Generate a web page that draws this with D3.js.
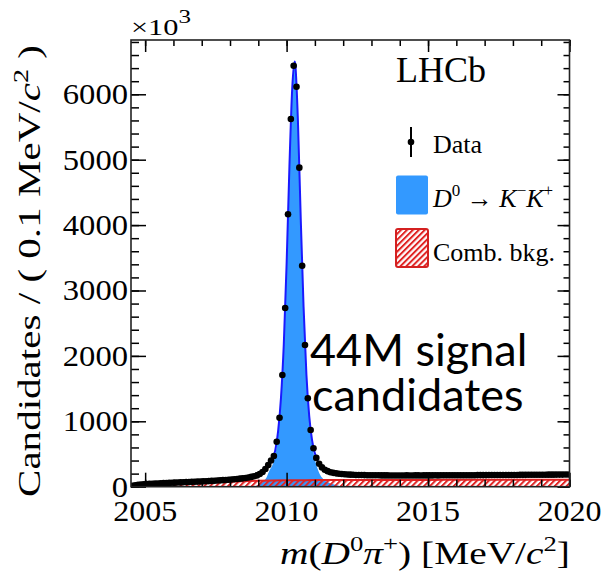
<!DOCTYPE html>
<html><head><meta charset="utf-8">
<script src="https://cdn.jsdelivr.net/npm/d3@7/dist/d3.min.js"></script>
<style>
body{margin:0;background:#fff;}
svg{display:block;}
text{font-family:"Liberation Serif","DejaVu Serif",serif;fill:#000;}
</style></head>
<body><svg id="c" width="603" height="571"></svg>
<script>
// ---- data (values in units of 10^3 candidates per 0.1 MeV/c^2) ----
const binStart = 2004.55, binWidth = 0.1, nBins = 155;
const dataValues = [
 12,22,28,33,37,40,43,46,48,50,
 52,54,56,58,60,62,64,66,68,70,
 72,74,76,78,80,82,84,86,89,91,
 94,97,100,103,106,110,114,118,123,128,
 134,141,150,160,173,195,225,270,330,400,
 469,688,1055,1708,2732,4165,5622,6437,6116,4878,3379,2167,1352,867,587,
 440,350,295,260,238,222,212,204,198,194,
 190,187,184,182,180,179,178,177,176,175,
 175,174,174,173,173,173,172,172,172,172,
 172,172,173,172,172,173,173,172,173,173,
 173,173,174,173,174,174,174,174,175,174,
 175,175,175,176,176,176,176,177,177,177,
 177,178,178,178,178,179,179,179,180,180,
 180,180,181,181,181,182,182,182,183,183,
 183,183,184,184,184,185,185,185,186,186
];
const fitMass = [2004.5,2004.6,2004.8,2005.0,2005.5,2006,2006.5,2007,2007.5,2008,2008.5,2008.8,2009.0,2009.2,2009.3,2009.4,2009.5,2009.6,2009.7,2009.8,2009.9,2010.0,2010.1,2010.2,2010.28,2010.3,2010.4,2010.5,2010.6,2010.7,2010.8,2010.9,2011.0,2011.1,2011.2,2011.3,2011.5,2011.8,2012,2013,2014,2016,2018,2020];
const fitTotal = [5,18,31,39,51,61,71,81,93,108,131,155,180,240,290,345,420,560,850,1350,2170,3400,4900,6100,6500,6480,5600,4100,2750,1720,1080,710,510,390,320,275,230,200,192,174,172,174,178,186];
const sigMass = [2008.8,2009.0,2009.2,2009.3,2009.4,2009.5,2009.6,2009.7,2009.8,2009.9,2010.0,2010.1,2010.2,2010.28,2010.3,2010.4,2010.5,2010.6,2010.7,2010.8,2010.9,2011.0,2011.1,2011.2,2011.3,2011.5,2011.8,2012.0];
const sigValues = [0,30,90,150,250,330,490,800,1330,2160,3390,4890,6090,6490,6470,5590,4090,2740,1700,1050,660,420,270,170,115,60,20,0];
const bkgMass = [2004.5,2005,2005.5,2006,2006.5,2007,2007.5,2008,2008.5,2009,2009.5,2010,2010.5,2011,2011.5,2012,2013,2014,2015,2016,2017,2018,2019,2020];
const bkgValues = [0,25,38,48,57,65,72,79,85,90,94,97,99,101,102,103,103,104,104,105,105,106,106,107];
const xMajorTicks = [2005,2010,2015,2020];
const xMinorTicks = [2005,2006,2007,2008,2009,2010,2011,2012,2013,2014,2015,2016,2017,2018,2019,2020];
const yMajorTicks = [0,1000,2000,3000,4000,5000,6000];
const yMinorTicks = [0,200,400,600,800,1000,1200,1400,1600,1800,2000,2200,2400,2600,2800,3000,3200,3400,3600,3800,4000,4200,4400,4600,4800,5000,5200,5400,5600,5800,6000,6200,6400,6600,6800];

const binCenters = d3.range(nBins).map(i => binStart + i*binWidth);
const data = binCenters.map((m,i)=>({m, v:dataValues[i]}));
const fit = fitMass.map((m,i)=>({m, v:fitTotal[i]}));
const sig = sigMass.map((m,i)=>({m, v:sigValues[i]}));
const bkg = bkgMass.map((m,i)=>({m, v:bkgValues[i]}));

// ---- layout ----
const L=131, R=569.5, T=40, B=486.7;
const x = d3.scaleLinear().domain([2004.5,2020]).range([L,R]);
const y = d3.scaleLinear().domain([0,6830]).range([B,T]);
const svg = d3.select("#c");

const defs = svg.append("defs");
const pat = defs.append("pattern").attr("id","hatch").attr("patternUnits","userSpaceOnUse")
  .attr("width",4.2).attr("height",4.2).attr("patternTransform","rotate(45)");
pat.append("line").attr("x1",1).attr("y1",0).attr("x2",1).attr("y2",4.2)
  .attr("stroke","#e02525").attr("stroke-width",2);
defs.append("clipPath").attr("id","clip").append("rect")
  .attr("x",L).attr("y",T).attr("width",R-L).attr("height",B-T);

const plot = svg.append("g").attr("clip-path","url(#clip)");

// signal fill
plot.append("path").datum(sig)
  .attr("d", d3.area().x(d=>x(d.m)).y0(y(0)).y1(d=>y(d.v)).curve(d3.curveMonotoneX))
  .attr("fill","#3399ff");
// background hatched
plot.append("path").datum(bkg)
  .attr("d", d3.area().x(d=>x(d.m)).y0(y(0)).y1(d=>y(d.v)).curve(d3.curveMonotoneX))
  .attr("fill","url(#hatch)");
plot.append("path").datum(bkg)
  .attr("d", d3.line().x(d=>x(d.m)).y(d=>y(d.v)).curve(d3.curveMonotoneX))
  .attr("fill","none").attr("stroke","#e02020").attr("stroke-width",2);
// total fit line
plot.append("path").datum(fit)
  .attr("d", d3.line().x(d=>x(d.m)).y(d=>y(d.v)).curve(d3.curveMonotoneX))
  .attr("fill","none").attr("stroke","#1a1aff").attr("stroke-width",2);
// data points
plot.append("g").selectAll("circle").data(data).join("circle")
  .attr("cx",d=>x(d.m)).attr("cy",d=>y(d.v)).attr("r",3.3).attr("fill","#000");

// ---- axes (ticks inside, ROOT style) ----
function styleAxis(g){
  g.select(".domain").remove();
  g.selectAll("line").attr("stroke","#000").attr("stroke-width",1.5);
}
svg.append("g").attr("transform",`translate(0,${B})`)
  .call(d3.axisBottom(x).tickValues(xMinorTicks).tickSize(-7).tickFormat(""))
  .call(styleAxis);
svg.append("g").attr("transform",`translate(0,${B})`)
  .call(d3.axisBottom(x).tickValues(xMajorTicks).tickSize(-14).tickFormat(""))
  .call(styleAxis);
svg.append("g").attr("transform",`translate(0,${T})`)
  .call(d3.axisTop(x).tickValues(xMinorTicks).tickSize(-6).tickFormat(""))
  .call(styleAxis);
svg.append("g").attr("transform",`translate(0,${T})`)
  .call(d3.axisTop(x).tickValues(xMajorTicks).tickSize(-12).tickFormat(""))
  .call(styleAxis);
svg.append("g").attr("transform",`translate(${L},0)`)
  .call(d3.axisLeft(y).tickValues(yMinorTicks).tickSize(-8).tickFormat(""))
  .call(styleAxis);
svg.append("g").attr("transform",`translate(${L},0)`)
  .call(d3.axisLeft(y).tickValues(yMajorTicks).tickSize(-15).tickFormat(""))
  .call(styleAxis);
svg.append("g").attr("transform",`translate(${R},0)`)
  .call(d3.axisRight(y).tickValues(yMinorTicks).tickSize(-6).tickFormat(""))
  .call(styleAxis);
svg.append("g").attr("transform",`translate(${R},0)`)
  .call(d3.axisRight(y).tickValues(yMajorTicks).tickSize(-12).tickFormat(""))
  .call(styleAxis);
svg.append("rect").attr("x",L).attr("y",T).attr("width",R-L).attr("height",B-T)
  .attr("fill","none").attr("stroke","#222").attr("stroke-width",1.6);

// tick labels, placed with the scales
svg.append("g").selectAll("text").data(yMajorTicks).join("text")
  .attr("x",L-3).attr("y",d=>y(d)+10).attr("text-anchor","end")
  .style("font-size","29px")
  .attr("textLength",d=>String(d).length*16.3).attr("lengthAdjust","spacingAndGlyphs")
  .text(d=>String(d));
svg.append("g").selectAll("text").data(xMajorTicks).join("text")
  .attr("x",d=>x(d)).attr("y",521).attr("text-anchor","middle")
  .style("font-size","29px")
  .attr("textLength",64).attr("lengthAdjust","spacingAndGlyphs")
  .text(d=>String(d));

// ---- texts ----
const ex = svg.append("text").attr("x",131).attr("y",35).style("font-size","23px")
  .attr("textLength",60).attr("lengthAdjust","spacingAndGlyphs");
ex.append("tspan").text("×10");
ex.append("tspan").attr("dy",-12).style("font-size","19px").text("3");

const yl = svg.append("text").attr("transform","translate(40,497) rotate(-90)")
  .attr("text-anchor","start").style("font-size","32px")
  .attr("textLength",452).attr("lengthAdjust","spacingAndGlyphs");
yl.append("tspan").text("Candidates / ( 0.1 MeV/");
yl.append("tspan").style("font-style","italic").text("c");
yl.append("tspan").attr("dy",-12).style("font-size","22px").text("2");
yl.append("tspan").attr("dy",12).text(" )");

const xl = svg.append("text").attr("x",280).attr("y",564).style("font-size","31px")
  .attr("textLength",290).attr("lengthAdjust","spacingAndGlyphs");
xl.append("tspan").style("font-style","italic").text("m");
xl.append("tspan").text("(");
xl.append("tspan").style("font-style","italic").text("D");
xl.append("tspan").attr("dy",-13).style("font-size","21px").text("0");
xl.append("tspan").attr("dy",13).style("font-style","italic").text("π");
xl.append("tspan").attr("dy",-13).style("font-size","21px").text("+");
xl.append("tspan").attr("dy",13).text(") [MeV/");
xl.append("tspan").style("font-style","italic").text("c");
xl.append("tspan").attr("dy",-13).style("font-size","21px").text("2");
xl.append("tspan").attr("dy",13).text("]");

svg.append("text").attr("x",396).attr("y",82).style("font-size","36px").text("LHCb");

// legend
svg.append("line").attr("x1",411).attr("x2",411).attr("y1",127).attr("y2",157).attr("stroke","#000").attr("stroke-width",2);
svg.append("circle").attr("cx",411).attr("cy",142).attr("r",3.3).attr("fill","#000");
svg.append("text").attr("x",433).attr("y",153).style("font-size","26px").text("Data");
svg.append("rect").attr("x",396).attr("y",175.5).attr("width",32).attr("height",39).attr("rx",2).attr("fill","#3399ff");
const lt = svg.append("text").attr("x",433).attr("y",207).style("font-size","26px");
lt.append("tspan").style("font-style","italic").text("D");
lt.append("tspan").attr("dy",-11).style("font-size","17px").text("0");
lt.append("tspan").attr("dy",11).text(" → ");
lt.append("tspan").style("font-style","italic").text("K");
lt.append("tspan").attr("dy",-11).style("font-size","17px").text("−");
lt.append("tspan").attr("dy",11).style("font-style","italic").text("K");
lt.append("tspan").attr("dy",-11).style("font-size","17px").text("+");
svg.append("rect").attr("x",396).attr("y",229).attr("width",32).attr("height",38).attr("rx",2)
  .attr("fill","url(#hatch)").attr("stroke","#d42020").attr("stroke-width",2);
svg.append("text").attr("x",433).attr("y",261).style("font-size","26px").text("Comb. bkg.");

// annotation
const ann = svg.append("text").style("font-family","Lato, 'Open Sans', sans-serif").style("font-size","45px");
ann.append("tspan").attr("x",310).attr("y",366).text("44M signal");
ann.append("tspan").attr("x",312).attr("y",411).text("candidates");
</script></body></html>
